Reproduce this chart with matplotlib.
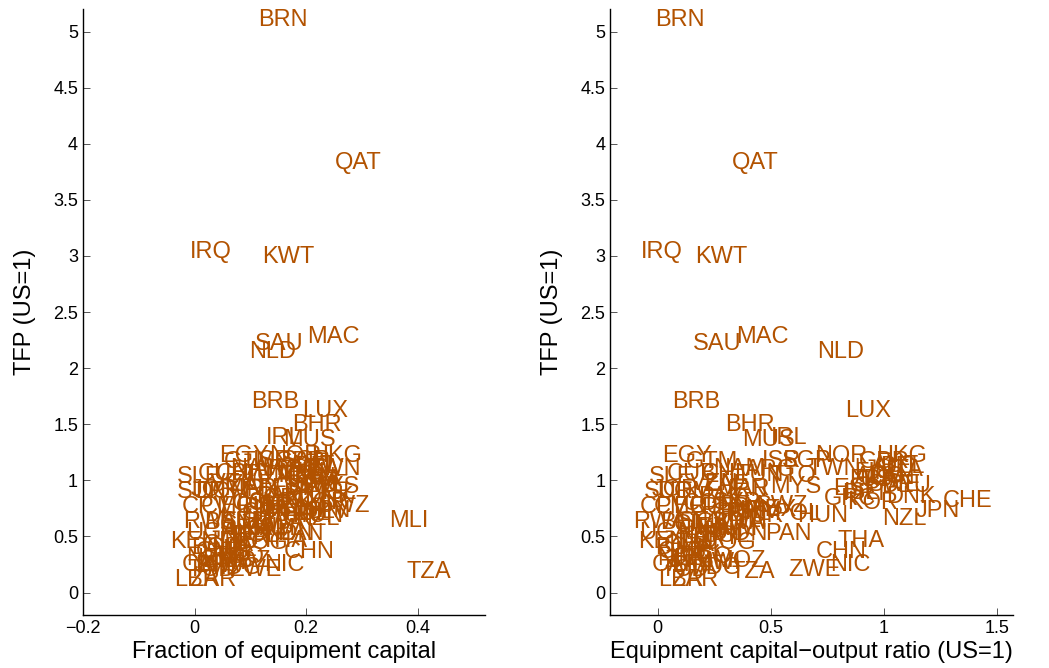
import matplotlib
matplotlib.use("Agg")
import matplotlib.pyplot as plt

# ── data: country code, fraction of equipment capital, equipment K/Y (US=1), TFP (US=1)
codes = ["BRN", "QAT", "IRQ", "KWT", "MAC", "SAU", "NLD", "BRB", "LUX", "BHR",
         "IRL", "MUS", "EGY", "NOR", "HKG", "GTM", "ISR", "SGP", "GBR", "AUT",
         "BEL", "ITA", "FIN", "TWN", "SLE", "CUB", "CHL", "NAM", "TUN", "ARG",
         "TTO", "FRA", "USA", "CAN", "AUS", "SWE", "ESP", "DEU", "VEN", "ZAF",
         "MYS", "PRT", "DNK", "CHE", "JPN", "NZL", "KOR", "GRC", "ISL", "SUR",
         "JOR", "DOM", "IRN", "MAR", "PAK", "SYR", "COL", "CPV", "CMR", "ECU",
         "PER", "BRA", "URY", "CRI", "PAN", "SWZ", "SLV", "PHL", "TUR", "HUN",
         "POL", "MEX", "MLI", "RWA", "BEN", "SEN", "CIV", "GAB", "BWA", "FJI",
         "LKA", "JAM", "IDN", "BOL", "HND", "PRY", "UGA", "THA", "KEN", "IND",
         "GHA", "NPL", "BGD", "COG", "GMB", "CHN", "TGO", "MOZ", "NIC", "ZMB",
         "MWI", "NER", "BFA", "CAF", "ZWE", "TZA", "TCD", "MDG", "LBR", "ZAR"]
frac = [0.159, 0.293, 0.029, 0.168, 0.248, 0.152, 0.139, 0.145, 0.234, 0.220,
        0.160, 0.205, 0.089, 0.180, 0.255, 0.100, 0.140, 0.200, 0.190, 0.210,
        0.220, 0.230, 0.200, 0.250, 0.009, 0.050, 0.080, 0.110, 0.130, 0.150,
        0.160, 0.220, 0.200, 0.210, 0.190, 0.230, 0.180, 0.210, 0.070, 0.100,
        0.250, 0.200, 0.240, 0.220, 0.240, 0.220, 0.230, 0.170, 0.260, 0.013,
        0.036, 0.050, 0.120, 0.100, 0.150, 0.140, 0.110, 0.020, 0.060, 0.090,
        0.130, 0.160, 0.150, 0.120, 0.190, 0.268, 0.240, 0.170, 0.180, 0.220,
        0.200, 0.170, 0.384, 0.027, 0.060, 0.090, 0.080, 0.130, 0.150, 0.120,
        0.100, 0.140, 0.180, 0.110, 0.090, 0.120, 0.030, 0.160, 0.000, 0.080,
        0.060, 0.070, 0.040, 0.120, 0.050, 0.205, 0.080, 0.090, 0.160, 0.060,
        0.050, 0.030, 0.040, 0.020, 0.110, 0.420, 0.030, 0.070, 0.004, 0.032]
ratio = [0.10, 0.43, 0.02, 0.28, 0.465, 0.265, 0.81, 0.17, 0.93, 0.41,
         0.58, 0.49, 0.13, 0.81, 1.08, 0.24, 0.55, 0.66, 1.00, 1.05,
         1.08, 1.10, 0.95, 0.78, 0.06, 0.15, 0.30, 0.36, 0.45, 0.50,
         0.60, 0.95, 1.00, 1.03, 0.98, 1.05, 0.88, 1.10, 0.25, 0.30,
         0.61, 0.92, 1.12, 1.37, 1.24, 1.09, 0.95, 0.85, 0.90, 0.05,
         0.08, 0.12, 0.40, 0.38, 0.28, 0.35, 0.22, 0.03, 0.10, 0.18,
         0.30, 0.38, 0.42, 0.33, 0.58, 0.55, 0.45, 0.40, 0.45, 0.73,
         0.62, 0.50, 0.40, 0.01, 0.12, 0.20, 0.16, 0.28, 0.36, 0.24,
         0.22, 0.34, 0.40, 0.30, 0.20, 0.26, 0.03, 0.90, 0.02, 0.18,
         0.14, 0.20, 0.10, 0.32, 0.12, 0.81, 0.22, 0.36, 0.85, 0.14,
         0.26, 0.11, 0.16, 0.08, 0.695, 0.42, 0.12, 0.25, 0.105, 0.165]
tfp = [5.10, 3.83, 3.04, 2.99, 2.28, 2.22, 2.14, 1.70, 1.62, 1.49,
       1.38, 1.36, 1.22, 1.22, 1.22, 1.16, 1.17, 1.17, 1.16, 1.13,
       1.12, 1.09, 1.07, 1.10, 1.03, 1.06, 1.06, 1.10, 1.05, 1.09,
       1.04, 1.00, 1.00, 1.02, 1.03, 0.96, 0.92, 0.95, 0.97, 0.96,
       0.94, 0.88, 0.85, 0.82, 0.73, 0.66, 0.80, 0.83, 0.89, 0.90,
       0.91, 0.90, 0.91, 0.92, 0.85, 0.80, 0.79, 0.76, 0.76, 0.76,
       0.75, 0.77, 0.73, 0.71, 0.52, 0.77, 0.72, 0.70, 0.68, 0.68,
       0.70, 0.74, 0.64, 0.63, 0.62, 0.63, 0.60, 0.62, 0.62, 0.58,
       0.57, 0.57, 0.52, 0.50, 0.52, 0.49, 0.53, 0.46, 0.45, 0.45,
       0.42, 0.38, 0.40, 0.44, 0.36, 0.36, 0.32, 0.28, 0.25, 0.28,
       0.26, 0.30, 0.24, 0.25, 0.20, 0.18, 0.20, 0.22, 0.11, 0.11]

LABEL = "#B25200"
FONT = "Liberation Sans"

plt.rcParams.update({
    "font.family": FONT,
    "xtick.direction": "in",
    "ytick.direction": "in",
    "xtick.major.size": 5,
    "ytick.major.size": 5,
    "xtick.major.width": 0.7,
    "ytick.major.width": 0.7,
    "xtick.labelsize": 13,
    "ytick.labelsize": 13,
    "axes.linewidth": 1.0,
})

fig = plt.figure(figsize=(10.49, 6.68), dpi=100)
ax1 = fig.add_axes([0.0791, 0.0793, 0.383, 0.907])
ax2 = fig.add_axes([0.5815, 0.0793, 0.384, 0.907])

panels = [
    (ax1, frac, (-0.2, 0.52), [-0.2, 0, 0.2, 0.4], ["\u22120.2", "0", "0.2", "0.4"],
     "Fraction of equipment capital"),
    (ax2, ratio, (-0.21, 1.57), [0, 0.5, 1, 1.5], ["0", "0.5", "1", "1.5"],
     "Equipment capital\u2212output ratio (US=1)"),
]

for ax, xs, xlim, xt, xtl, xlab in panels:
    for c, x, y in zip(codes, xs, tfp):
        ax.text(x, y, c, ha="center", va="center", fontsize=17, color=LABEL)
    ax.set_xlim(*xlim)
    ax.set_ylim(-0.2, 5.2)
    ax.set_xticks(xt)
    ax.set_xticklabels(xtl)
    ax.set_yticks([0, 0.5, 1, 1.5, 2, 2.5, 3, 3.5, 4, 4.5, 5])
    ax.set_yticklabels(["0", "0.5", "1", "1.5", "2", "2.5", "3", "3.5", "4", "4.5", "5"])
    ax.spines["top"].set_visible(False)
    ax.spines["right"].set_visible(False)
    ax.tick_params(colors="#555555", labelcolor="black")
    ax.set_xlabel(xlab, fontsize=17, labelpad=3)
    ax.set_ylabel("TFP (US=1)", fontsize=17, labelpad=12)

plt.savefig("out.png", dpi=100)
plt.close()
